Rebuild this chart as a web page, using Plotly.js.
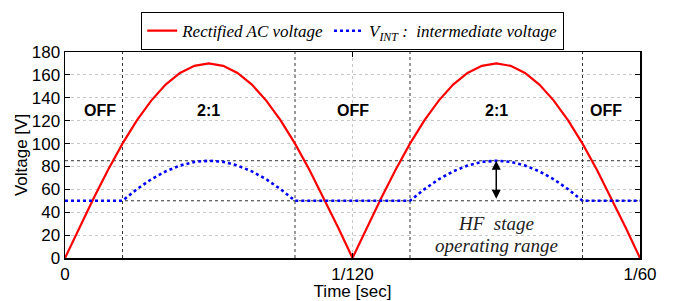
<!DOCTYPE html>
<html><head><meta charset="utf-8">
<script src="https://cdn.plot.ly/plotly-3.0.1.min.js"></script>
<style>body{margin:0;padding:0;background:#fff}#chart{width:687px;height:301px}</style>
</head><body><div id="chart"></div>
<script>
// time samples (seconds): one point every 1/2400 s over 0 .. 1/60
var timeSteps = [0,1,2,3,4,5,6,7,8,9,10,11,12,13,14,15,16,17,18,19,20,21,22,23,24,25,26,27,28,29,30,31,32,33,34,35,36,37,38,39,40];
var time = timeSteps.map(function(k){return k/2400;});
// Rectified AC voltage (V)
var rectified = [0,26.6,52.5,77.2,99.9,120.2,137.5,151.5,161.7,167.9,170,167.9,161.7,151.5,137.5,120.2,99.9,77.2,52.5,26.6,0,
                 26.6,52.5,77.2,99.9,120.2,137.5,151.5,161.7,167.9,170,167.9,161.7,151.5,137.5,120.2,99.9,77.2,52.5,26.6,0];
// V_INT intermediate voltage (V)
var vint = [50,50,50,50,50,60.1,68.8,75.7,80.8,84.0,85,84.0,80.8,75.7,68.8,60.1,50,50,50,50,50,
            50,50,50,50,60.1,68.8,75.7,80.8,84.0,85,84.0,80.8,75.7,68.8,60.1,50,50,50,50,50];
// mode boundaries (s) and HF stage levels (V)
var switchTimes = [1/600, 4/600, 6/600, 9/600];
var levels = [50, 85];
var modeLabels = ['OFF','2:1','OFF','2:1','OFF'];
var modeTimes = [0.6/600, 2.5/600, 5/600, 7.5/600, 9.4/600];
var modeLevel = 129;
var xTickVals = [0, 1/120, 1/60];
var xTickText = ['0','1/120','1/60'];
var yTickVals = [0,20,40,60,80,100,120,140,160,180];

var traces = [
  {x: time, y: rectified, mode:'lines', line:{color:'#ff0000', width:2.2},
   name:'<i>Rectified AC voltage</i>'},
  {x: time, y: vint, mode:'lines', line:{color:'#0000ff', width:2.6, dash:'dot'},
   name:'<i>V</i><sub><i>INT</i></sub><i> :  intermediate voltage</i>'}
];

var shapes = [];
switchTimes.forEach(function(t){
  shapes.push({type:'line', xref:'x', yref:'y', x0:t, x1:t, y0:0, y1:180,
    line:{color:'#333', width:1, dash:'3px,3px'}, layer:'below'});
});
levels.forEach(function(v){
  shapes.push({type:'line', xref:'x', yref:'y', x0:0, x1:1/60, y0:v, y1:v,
    line:{color:'#333', width:1, dash:'3px,3px'}, layer:'below'});
});

var annotations = modeLabels.map(function(s,i){
  return {x: modeTimes[i], y: modeLevel, xref:'x', yref:'y', text:'<b>'+s+'</b>',
    showarrow:false, font:{family:'Liberation Sans, Arial', size:16, color:'#000'}};
});
annotations.push({x:1.5/120, y:30, xref:'x', yref:'y', text:'<i>HF  stage</i>', showarrow:false,
  font:{family:'Liberation Serif, serif', size:19, color:'#222'}});
annotations.push({x:1.5/120, y:11, xref:'x', yref:'y', text:'<i>operating range</i>', showarrow:false,
  font:{family:'Liberation Serif, serif', size:19, color:'#222'}});
annotations.push({x:1.5/120, y:levels[1], ax:1.5/120, ay:levels[0], xref:'x', yref:'y', axref:'x', ayref:'y',
  text:' ', showarrow:true, arrowside:'end+start', arrowhead:2, arrowsize:1.2, arrowwidth:1.5, arrowcolor:'#000',
  font:{size:1}});

var layout = {
  width:687, height:301,
  margin:{l:65, r:47, t:33, b:43},
  paper_bgcolor:'#fff', plot_bgcolor:'#fff',
  showlegend:true,
  legend:{orientation:'h', x:0.5, xanchor:'center', y:1.01, yanchor:'bottom',
    bordercolor:'#000', borderwidth:1.2, font:{family:'Liberation Serif, serif', size:17, color:'#000'},
    itemwidth:30, tracegroupgap:0},
  xaxis:{range:[0,1/60], tickvals:xTickVals, ticktext:xTickText, showline:true, linecolor:'#000', linewidth:1.5,
    mirror:'allticks', ticks:'inside', ticklen:5, tickcolor:'#000', showgrid:true, gridcolor:'#c8c8c8', griddash:'dot',
    zeroline:false, tickfont:{family:'Liberation Sans, Arial', size:17, color:'#000'},
    title:{text:'Time [sec]', font:{family:'Liberation Sans, Arial', size:17, color:'#000'}, standoff:4}},
  yaxis:{range:[0,180], tickvals:yTickVals, showline:true, linecolor:'#000', linewidth:1.5,
    mirror:'allticks', ticks:'inside', ticklen:5, tickcolor:'#000', showgrid:true, gridcolor:'#c8c8c8', griddash:'dot',
    zeroline:false, tickfont:{family:'Liberation Sans, Arial', size:17, color:'#000'},
    title:{text:'Voltage [V]', font:{family:'Liberation Sans, Arial', size:17, color:'#000'}, standoff:0}},
  shapes:shapes,
  annotations:annotations
};
Plotly.newPlot('chart', traces, layout, {displayModeBar:false, staticPlot:true});
</script></body></html>
